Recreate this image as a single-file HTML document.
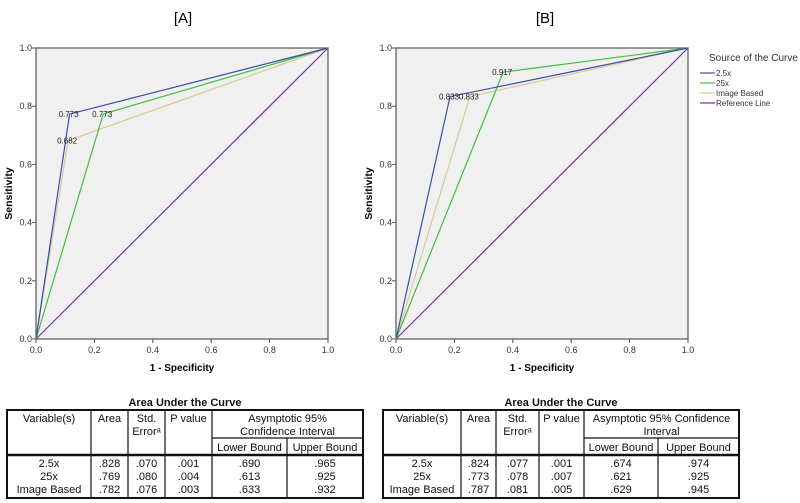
<!DOCTYPE html>
<html><head><meta charset="utf-8"><style>
body{margin:0;background:#fff;}
svg{display:block;font-family:"Liberation Sans",Arial,sans-serif;}
</style></head><body>
<svg id="s" width="800" height="503" viewBox="0 0 800 503">
<text x="183" y="23" font-size="15" text-anchor="middle">[A]</text>
<text x="545" y="23" font-size="15" text-anchor="middle">[B]</text>
<g id="legend">
<text x="709" y="61" font-size="10" fill="#333">Source of the Curve</text>
</g>
</svg>
<script>
const ticks=[0,0.2,0.4,0.6,0.8,1.0];
const seriesNames=["2.5x","25x","Image Based","Reference Line"];
const colors=["#3b4ea8","#3fbf3f","#d8cc95","#7b2f9c"];
const aFpr=[0.115,0.23,0.11];
const aTpr=[0.773,0.773,0.682];
const aLabels=["0.773","0.773","0.682"];
const bFpr=[0.185,0.367,0.253];
const bTpr=[0.833,0.917,0.833];
const bLabels=["0.833","0.917","0.833"];
const tableCols=["Variable(s)","Area","Std. Error","P value","Lower Bound","Upper Bound"];
const rowNames=["2.5x","25x","Image Based"];
const aVals=[[".828",".070",".001",".690",".965"],[".769",".080",".004",".613",".925"],[".782",".076",".003",".633",".932"]];
const bVals=[[".824",".077",".001",".674",".974"],[".773",".078",".007",".621",".925"],[".787",".081",".005",".629",".945"]];
const NS="http://www.w3.org/2000/svg";
const svg=document.getElementById('s');
function mk(t,a,p,txt){const e=document.createElementNS(NS,t);for(const k in a)e.setAttribute(k,a[k]);if(txt!==undefined)e.textContent=txt;(p||svg).appendChild(e);return e;}
function plot(x0,fpr,tpr,labels,pfx,ytitle){
  const x1=x0+292,yT=48,yB=339;
  const sx=v=>x0+v*(x1-x0), sy=v=>yB-v*(yB-yT);
  const g=mk('g',{});
  
  
  const bg=mk('rect',{x:x0,y:yT,width:x1-x0,height:yB-yT,fill:'#f0f0f0',stroke:'#555','stroke-width':1.2},g);
  
  
  ticks.forEach(t=>{
    mk('line',{x1:x0-4,x2:x0,y1:sy(t),y2:sy(t),stroke:'#555'},g);
    const yl=mk('text',{x:x0-4,y:sy(t)+3,'font-size':9,'text-anchor':'end',fill:'#333'},g,t.toFixed(1));
    
    
    mk('line',{x1:sx(t),x2:sx(t),y1:yB,y2:yB+4,stroke:'#555'},g);
    const xl=mk('text',{x:sx(t),y:yB+14,'font-size':9,'text-anchor':'middle',fill:'#333'},g,t.toFixed(1));
    
    
  });
  const xt=mk('text',{x:(x0+x1)/2,y:yB+32,'font-size':10,'font-weight':'bold','text-anchor':'middle'},g,'1 - Specificity');
  
  
  if(ytitle){const cy=(yT+yB)/2, tx=x0-24;const yt=mk('text',{x:tx,y:cy,'font-size':10.5,'font-weight':'bold','text-anchor':'middle',transform:`rotate(-90 ${tx} ${cy})`},g,'Sensitivity');
    
    }
  const ref=mk('line',{x1:sx(0),y1:sy(0),x2:sx(1),y2:sy(1),stroke:colors[3],'stroke-width':1.2},g);
  
  
  [2,1,0].forEach(i=>{
    const pl=mk('polyline',{points:`${sx(0)},${sy(0)} ${sx(fpr[i])},${sy(tpr[i])} ${sx(1)},${sy(1)}`,fill:'none',stroke:colors[i],'stroke-width':1.2},g);
    
    
  });
  fpr.forEach((f,i)=>{
    const lb=mk('text',{x:sx(f)-1,y:sy(tpr[i])+3,'font-size':8,'text-anchor':'middle',fill:'#222'},g,labels[i]);
    
    
  });
}
plot(36,aFpr,aTpr,aLabels,'panel-a',true);
plot(396,bFpr,bTpr,bLabels,'panel-b',true);
const lg=document.getElementById('legend');
seriesNames.forEach((n,i)=>{
  const y=73+i*10;
  mk('line',{x1:700,x2:715,y1:y,y2:y,stroke:colors[i],'stroke-width':1.2},lg);
  const t=mk('text',{x:716,y:y+3,'font-size':8,fill:'#333'},lg,n);
  
  
});
function table(xs,vals,pfx){
  const top=410,mid=438,dbl=455,bot=498,cx=i=>(xs[i]+xs[i+1])/2;
  const g=mk('g',{'font-size':11,fill:'#111'});
  
  
  const tt=mk('text',{x:(xs[0]+xs[6])/2,y:top-4,'font-weight':'bold','text-anchor':'middle'},g,'Area Under the Curve');
  
  
  mk('rect',{x:xs[0],y:top,width:xs[6]-xs[0],height:bot-top,fill:'none',stroke:'#111','stroke-width':2},g);
  for(let i=1;i<6;i++){mk('line',{x1:xs[i],x2:xs[i],y1:i==5?mid:top,y2:bot,stroke:'#111','stroke-width':1.2},g);}
  mk('line',{x1:xs[4],x2:xs[6],y1:mid,y2:mid,stroke:'#111','stroke-width':1.2},g);
  mk('line',{x1:xs[0],x2:xs[6],y1:dbl,y2:dbl,stroke:'#111','stroke-width':2.5},g);
  mk('text',{x:cx(0),y:top+12,'text-anchor':'middle'},g,'Variable(s)');
  mk('text',{x:cx(1),y:top+12,'text-anchor':'middle'},g,'Area');
  mk('text',{x:cx(2),y:top+12,'text-anchor':'middle'},g,'Std.');
  mk('text',{x:cx(2),y:top+25,'text-anchor':'middle'},g,'Errorᵃ');
  mk('text',{x:cx(3),y:top+12,'text-anchor':'middle'},g,'P value');
  if(pfx==='a'){
    mk('text',{x:(xs[4]+xs[6])/2,y:top+12,'text-anchor':'middle'},g,'Asymptotic 95%');
    mk('text',{x:(xs[4]+xs[6])/2,y:top+25,'text-anchor':'middle'},g,'Confidence Interval');
  }else{
    mk('text',{x:(xs[4]+xs[6])/2,y:top+12,'text-anchor':'middle'},g,'Asymptotic 95% Confidence');
    mk('text',{x:(xs[4]+xs[6])/2,y:top+25,'text-anchor':'middle'},g,'Interval');
  }
  mk('text',{x:cx(4),y:mid+13,'text-anchor':'middle'},g,'Lower Bound');
  mk('text',{x:cx(5),y:mid+13,'text-anchor':'middle'},g,'Upper Bound');
  rowNames.forEach((r,j)=>{
    const y=dbl+12+j*13;
    mk('text',{x:cx(0),y:y,'text-anchor':'middle'},g,r);
    vals[j].forEach((v,k)=>{
      const c=mk('text',{x:cx(k+1),y:y,'text-anchor':'middle'},g,v);
      
      
    });
  });
}
table([7,91,128,165,212,287,363],aVals,'a');
table([383,461,496,539,584,658,739],bVals,'b');
</script>
</body></html>
